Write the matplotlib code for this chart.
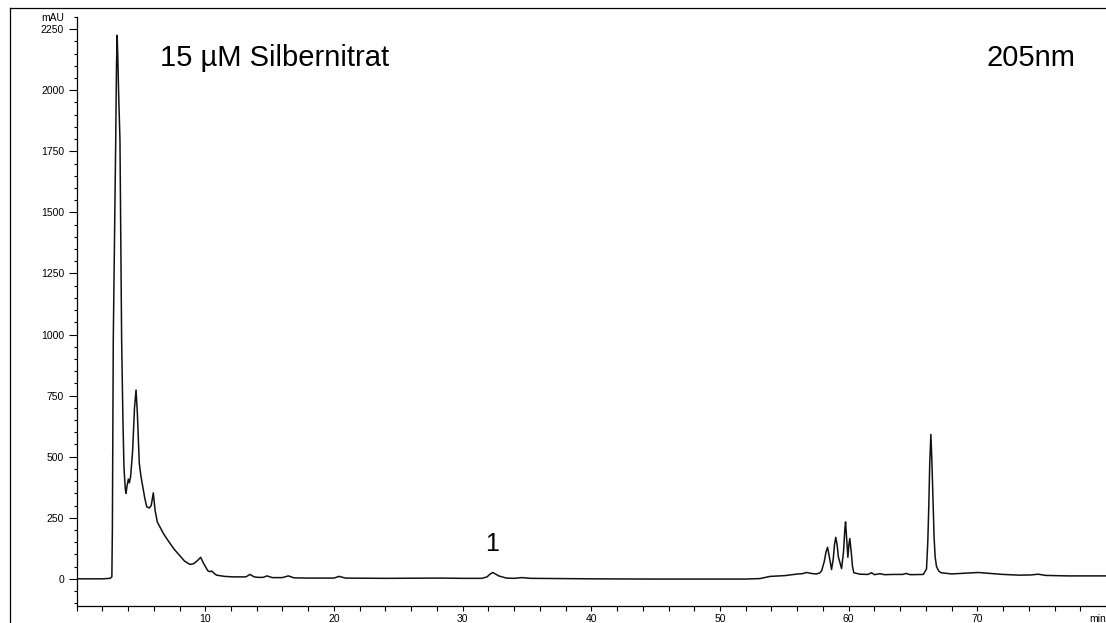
import matplotlib
matplotlib.use("Agg")
import matplotlib.pyplot as plt
from matplotlib.lines import Line2D
from matplotlib.ticker import FixedLocator, MultipleLocator

plt.rcParams['font.family'] = ['Liberation Sans', 'DejaVu Sans']

# chromatogram trace, 205 nm (time in min, signal in mAU)
time_min = [
    0.0, 2.0, 2.6, 2.74, 2.78, 2.82, 2.85, 2.95, 3.04, 3.1, 3.15, 3.2, 3.28,
    3.37, 3.44, 3.5, 3.6, 3.68, 3.78, 3.84, 3.92, 4.02, 4.1, 4.2, 4.35, 4.5,
    4.62, 4.72, 4.87, 5.0, 5.14, 5.3, 5.45, 5.65, 5.8, 5.96, 6.1, 6.27, 6.5,
    6.74, 7.0, 7.26, 7.6, 7.98, 8.4, 8.81, 9.1, 9.4, 9.64, 9.9, 10.2, 10.37,
    10.5, 10.7, 10.88, 11.5, 12.17, 13.16, 13.47, 13.8, 14.1, 14.5, 14.8,
    15.2, 16.0, 16.45, 16.9, 18.0, 20.0, 20.4, 20.9, 24.0, 28.2, 30.0, 31.5,
    31.9, 32.1, 32.33, 32.55, 32.8, 33.4, 34.0, 34.6, 35.3, 40.0, 45.0, 50.0,
    52.0, 53.1, 53.9, 55.0, 56.07, 56.4, 56.73, 57.1, 57.5, 57.75, 57.9,
    58.1, 58.25, 58.36, 58.5, 58.67, 58.8, 58.9, 59.0, 59.1, 59.2, 59.45,
    59.6, 59.7, 59.76, 59.85, 59.94, 60.02, 60.09, 60.2, 60.3, 60.4, 60.87,
    61.5, 61.78, 62.0, 62.42, 62.8, 63.5, 64.2, 64.45, 64.8, 65.8, 66.05,
    66.15, 66.23, 66.3, 66.39, 66.47, 66.57, 66.64, 66.72, 66.83, 67.0,
    67.18, 68.0, 69.0, 70.06, 71.0, 72.0, 73.3, 74.2, 74.73, 75.3, 77.0, 80.0,
]
signal_mau = [
    0, 0, 2, 8, 200, 700, 976, 1400, 1796, 2100, 2225, 2140, 1960,
    1796, 1350, 976, 650, 459, 370, 350, 380, 408, 393, 420, 520, 700,
    773, 680, 474, 420, 377, 330, 295, 290, 300, 352, 280, 233, 210,
    186, 165, 145, 120, 97, 72, 59, 62, 75, 88, 60, 33, 29,
    32, 22, 15, 10, 8, 8, 18, 8, 6, 6, 12,
    5, 5, 12, 4, 3, 3, 10, 3, 2, 3, 2, 2,
    8, 18, 26, 20, 12, 3, 2, 5, 2, 0, -1, -1,
    -1, 1, 10, 13, 20, 21, 26, 22, 20, 24, 33,
    70, 112, 129, 90, 38, 80, 140, 170, 140, 90, 42,
    110, 200, 233, 160, 88, 140, 165, 110, 50, 25, 19,
    18, 25, 17, 21, 17, 18, 18, 22, 17, 18, 40,
    150, 300, 470, 591, 480, 300, 170, 90, 50, 32,
    25, 20, 23, 26, 22, 18, 15, 16, 19, 14, 12, 12,
]

y_major = [0, 250, 500, 750, 1000, 1250, 1500, 1750, 2000, 2250, 2300]
y_labels = ['0', '250', '500', '750', '1000', '1250', '1500', '1750',
            '2000', '2250', 'mAU']
x_major = [10, 20, 30, 40, 50, 60, 70, 80]
x_labels = ['10', '20', '30', '40', '50', '60', '70', 'min']

W, H = 1106, 623
fig = plt.figure(figsize=(W / 100, H / 100), dpi=100)
ax = fig.add_axes([76.6 / W, (H - 605.7) / H, (W - 76.6) / W, (605.7 - 17.0) / H])

ax.plot(time_min, signal_mau, color='#111111', lw=1.1, solid_joinstyle='round')

ax.set_xlim(0, 80)
ax.set_ylim(-110, 2300)

for side in ('top', 'right'):
    ax.spines[side].set_visible(False)
for side in ('left', 'bottom'):
    ax.spines[side].set_linewidth(0.9)

ax.yaxis.set_major_locator(FixedLocator(y_major))
ax.set_yticklabels(y_labels)
ax.yaxis.set_minor_locator(MultipleLocator(50))
ax.xaxis.set_major_locator(FixedLocator(x_major))
ax.set_xticklabels(x_labels)
ax.xaxis.set_minor_locator(MultipleLocator(2))

ax.tick_params(axis='y', which='major', length=6, width=0.8, pad=3, labelsize=7.5)
ax.tick_params(axis='y', which='minor', length=2.5, width=0.8)
ax.tick_params(axis='x', which='both', length=3.8, width=0.8, pad=2, labelsize=7.5)
ax.get_xticklabels()[-1].set_horizontalalignment('right')
# the mAU mark is shorter than the numbered ones
ax.yaxis.get_major_ticks()[-1].tick1line.set_markersize(2.5)

ax.text(32.25, 115, '1', ha='center', va='baseline', fontsize=18)

fig.text(160 / W, 1 - 66 / H, '15 µM Silbernitrat', ha='left', va='baseline',
         fontsize=21)
fig.text(1075 / W, 1 - 66 / H, '205nm', ha='right', va='baseline', fontsize=21)

# outer frame of the report page
fig.add_artist(Line2D([10 / W, 10 / W], [0, 1 - 8 / H], transform=fig.transFigure,
                      color='black', lw=0.9))
fig.add_artist(Line2D([10 / W, 1], [1 - 8 / H, 1 - 8 / H], transform=fig.transFigure,
                      color='black', lw=0.9))

fig.savefig('out.png', dpi=100)
